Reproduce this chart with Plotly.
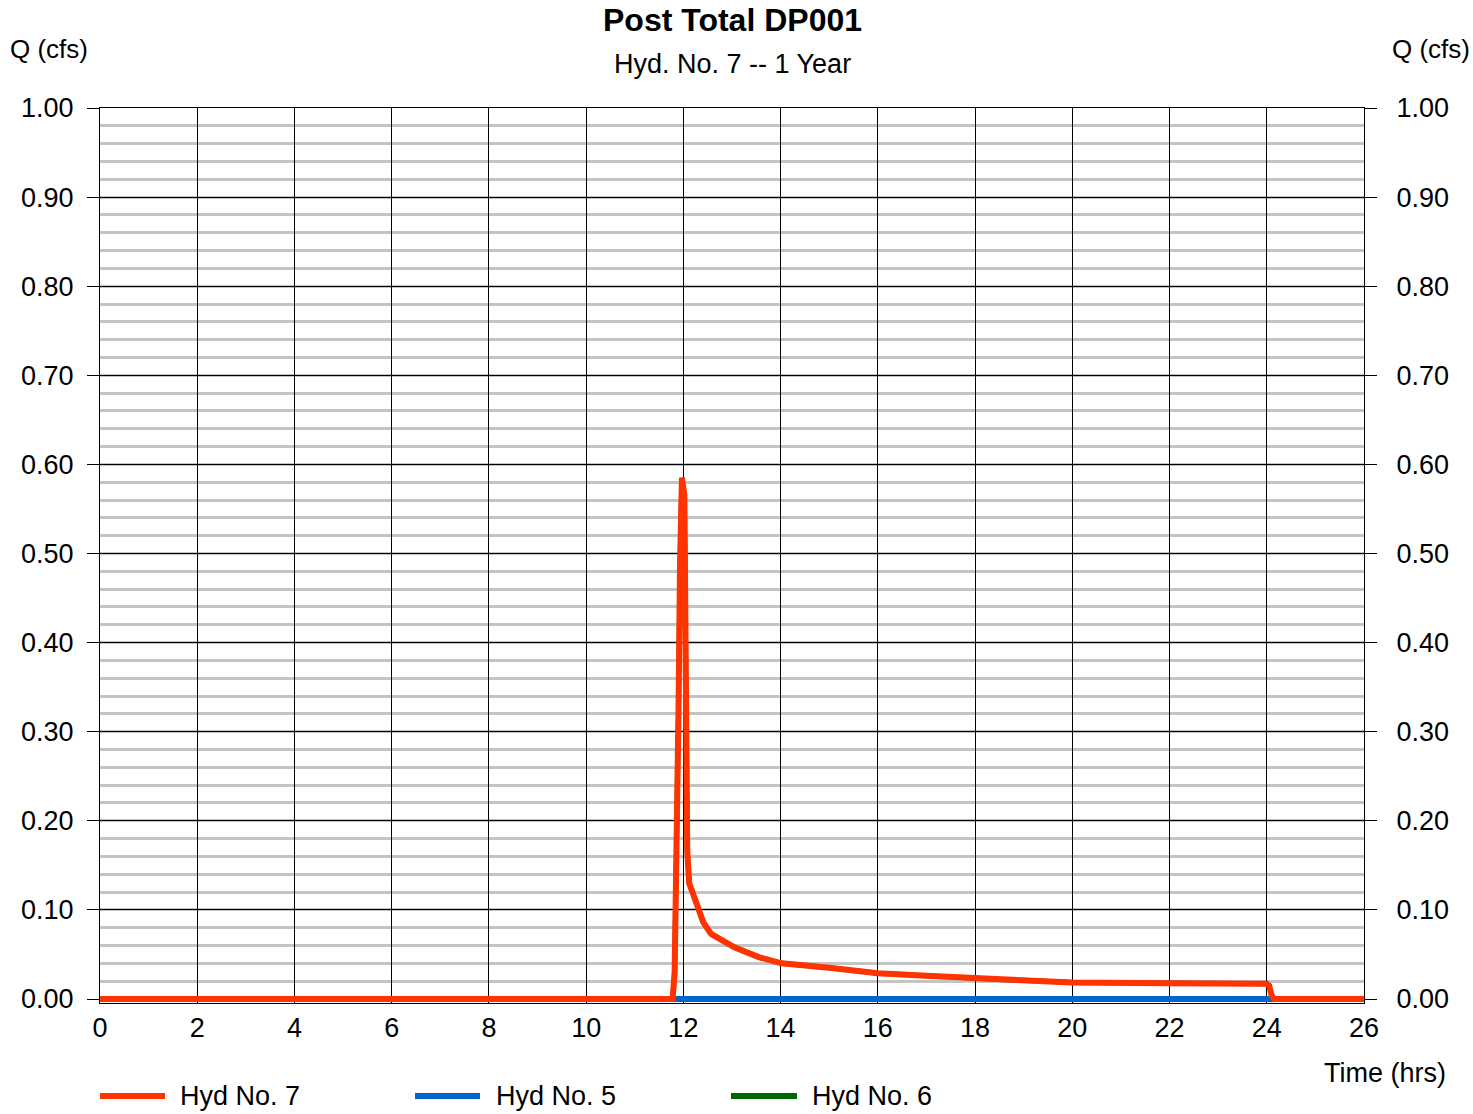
import plotly.graph_objects as go

# ---- data ----
time_hrs = [0, 11.78, 11.82, 11.85, 11.90, 11.93, 11.97, 12.02, 12.05, 12.08, 12.12,
            12.27, 12.41, 12.57, 12.75, 13.05, 13.55, 14.02, 15.0, 16.0, 17.0, 18.0,
            18.5, 20.0, 22.0, 24.0, 24.05, 24.10, 24.15, 26.0]
hyd7_q = [0, 0, 0.03, 0.126, 0.325, 0.485, 0.585, 0.565, 0.325, 0.166, 0.13,
          0.106, 0.086, 0.073, 0.0675, 0.058, 0.047, 0.040, 0.035, 0.029, 0.026, 0.023,
          0.022, 0.0185, 0.0176, 0.0172, 0.015, 0.004, 0.0, 0.0]
hyd5_time = [0, 26]
hyd5_q = [0, 0]
hyd6_time = list(time_hrs)
hyd6_q = list(hyd7_q)

series_names = ["Hyd No. 7", "Hyd No. 5", "Hyd No. 6"]
series_colors = ["#FF3300", "#0066CC", "#006600"]

x_ticks = list(range(0, 27, 2))
y_ticks = [i / 10 for i in range(0, 11)]

title_text = "Post Total DP001"
subtitle_text = "Hyd. No. 7 -- 1 Year"
y_title = "Q (cfs)"
x_title = "Time (hrs)"

FONT = "Liberation Sans, Arial, sans-serif"
FS = 27
Y_LOW = -4 / 891  # small pad below zero so the zero-flow lines are not clipped

fig = go.Figure()
fig.add_trace(go.Scatter(x=hyd5_time, y=hyd5_q, mode="lines", name=series_names[1],
                         line=dict(color=series_colors[1], width=6), showlegend=False))
fig.add_trace(go.Scatter(x=hyd6_time, y=hyd6_q, mode="lines", name=series_names[2],
                         line=dict(color=series_colors[2], width=5), showlegend=False))
fig.add_trace(go.Scatter(x=time_hrs, y=hyd7_q, mode="lines", name=series_names[0],
                         line=dict(color=series_colors[0], width=6), showlegend=False))
# invisible trace to activate the right axis
fig.add_trace(go.Scatter(x=[0], y=[0], yaxis="y2", mode="lines", showlegend=False,
                         line=dict(width=0), hoverinfo="skip"))

tickfont = dict(family=FONT, size=FS, color="black")
fig.update_layout(
    width=1473, height=1114,
    margin=dict(l=100, r=109, t=108, b=111),
    paper_bgcolor="white", plot_bgcolor="white",
    font=dict(family=FONT, size=FS, color="black"),
    xaxis=dict(range=[0, 26], tickvals=x_ticks, ticktext=[str(v) for v in x_ticks],
               showgrid=True, gridcolor="black", gridwidth=1, zeroline=False,
               showline=True, linecolor="black", linewidth=1, mirror=True,
               ticks="", tickfont=tickfont, ticklabelstandoff=1),
    yaxis=dict(range=[Y_LOW, 1], tickvals=y_ticks, ticktext=[f"{v:.2f}" for v in y_ticks],
               showgrid=True, gridcolor="black", gridwidth=1, zeroline=False,
               showline=True, linecolor="black", linewidth=1, mirror=True,
               ticks="outside", ticklen=12, tickcolor="black", tickwidth=1,
               tickfont=tickfont, ticklabelstandoff=8,
               minor=dict(dtick=0.02, tick0=0, showgrid=True, gridcolor="#c4c4c4", gridwidth=3, ticks="")),
    yaxis2=dict(range=[Y_LOW, 1], overlaying="y", side="right", tickvals=y_ticks,
                ticktext=[f"{v:.2f}" for v in y_ticks], showgrid=False, zeroline=False,
                ticks="outside", ticklen=12, tickcolor="black", tickwidth=1,
                tickfont=tickfont, ticklabelstandoff=14),
)

ann = [
    dict(text=f"<b>{title_text}</b>", x=0.5, y=1.0983, font=dict(size=32, family=FONT),
         xanchor="center", yanchor="middle"),
    dict(text=subtitle_text, x=0.5, y=1.0492, font=dict(size=FS, family=FONT),
         xanchor="center", yanchor="middle"),
    dict(text=y_title, x=-0.0728, y=1.0659, xanchor="left", yanchor="middle",
         font=dict(size=26, family=FONT)),
    dict(text=y_title, x=1.0854, y=1.0659, xanchor="right", yanchor="middle",
         font=dict(size=26, family=FONT)),
    dict(text=x_title, x=1.0665, y=-0.0782, xanchor="right", yanchor="middle"),
]
leg_x = [(0.0, 0.0514, 0.0617), (0.2492, 0.3006, 0.3117), (0.4992, 0.5514, 0.5617)]
LEG_Y = -0.1039
shapes = []
for (x0, x1, xt), name, col in zip(leg_x, series_names, series_colors):
    shapes.append(dict(type="line", xref="paper", yref="paper", x0=x0, x1=x1,
                       y0=LEG_Y, y1=LEG_Y, line=dict(color=col, width=6)))
    ann.append(dict(text=name, x=xt, y=LEG_Y, xanchor="left", yanchor="middle"))
for a in ann:
    a.update(xref="paper", yref="paper", showarrow=False)
    a.setdefault("font", dict(size=FS, family=FONT))
fig.update_layout(annotations=ann, shapes=shapes)

fig.write_html("out.html", config={"displayModeBar": False},
               post_script="document.body.style.margin='0';document.body.style.overflow='hidden';")
